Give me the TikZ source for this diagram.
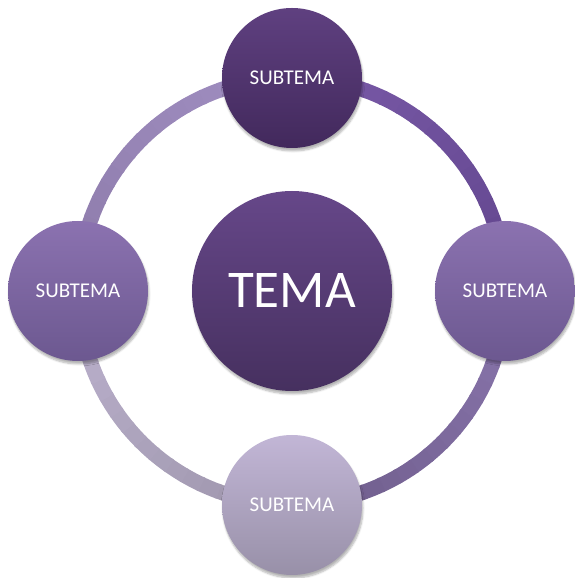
\documentclass[tikz,border=0pt]{standalone}
\usepackage{fontspec}
\setmainfont{Carlito}
\usetikzlibrary{shadows.blur,backgrounds}

\definecolor{temaTop}{HTML}{664789}
\definecolor{temaBot}{HTML}{46305F}
\definecolor{darkTop}{HTML}{5F4080}
\definecolor{darkBot}{HTML}{42295C}
\definecolor{midTop}{HTML}{8B72B0}
\definecolor{midBot}{HTML}{6C5890}
\definecolor{paleTop}{HTML}{C2B6D6}
\definecolor{paleBot}{HTML}{9890A8}
% ring colours, clockwise from the top
\definecolor{ringA}{HTML}{7A5AA8}
\definecolor{ringB}{HTML}{62468E}
\definecolor{ringC}{HTML}{8A76AE}
\definecolor{ringD}{HTML}{6E5C8A}
\definecolor{ringE}{HTML}{9C94AA}
\definecolor{ringF}{HTML}{BCB2CE}
\definecolor{ringG}{HTML}{8E7CAA}
\definecolor{ringH}{HTML}{A08EC2}

\tikzset{
  bubble/.style={circle, inner sep=0pt, text=white,
    blur shadow={shadow xshift=1pt, shadow yshift=-3pt, shadow blur steps=6, shadow opacity=30}},
  mainbubble/.style={bubble, minimum size=200pt, top color=temaTop, bottom color=temaBot,
    font=\fontsize{53}{58}\selectfont},
  subbubble/.style={bubble, minimum size=140pt, font=\fontsize{21}{25}\selectfont},
  ring/.style={line width=15pt},
}

\begin{document}
\begin{tikzpicture}[x=1pt,y=1pt]
\useasboundingbox (0,0) rectangle (574,578);

\node[mainbubble] (tema) at (292,287) {TEMA};
\node[subbubble, top color=darkTop, bottom color=darkBot] (subtop) at ([shift={(90:213pt)}]tema.center) {SUBTEMA};
\node[subbubble, top color=midTop, bottom color=midBot] (subright) at ([shift={(0:213pt)}]tema.center) {SUBTEMA};
\node[subbubble, top color=paleTop, bottom color=paleBot] (subbottom) at ([shift={(-90:214pt)}]tema.center) {SUBTEMA};
\node[subbubble, top color=midTop, bottom color=midBot] (subleft) at ([shift={(180:214pt)}]tema.center) {SUBTEMA};

% the ring, in small arcs so the colour can run along it
\begin{pgfonlayer}{background}
\foreach \from/\ca/\cb in {90/ringA/ringB, 0/ringC/ringD, -90/ringE/ringF, -180/ringG/ringH}{
  \foreach \k in {0,...,17}{
    \pgfmathtruncatemacro\pct{100-\k*100/17}
    \pgfmathsetmacro\ang{\from-5*\k}
    \draw[ring, draw=\ca!\pct!\cb] (tema.center) ++(\ang:213.5pt)
      arc[start angle=\ang, delta angle=-5.6, radius=213.5pt];
  }
}
\end{pgfonlayer}
\end{tikzpicture}
\end{document}
